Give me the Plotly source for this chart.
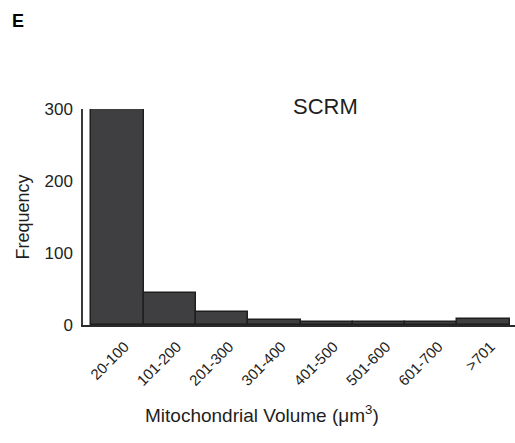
import plotly.graph_objects as go

# Histogram of mitochondrial volumes, SCRM condition
bins = ["20-100", "101-200", "201-300", "301-400", "401-500", "501-600", "601-700", ">701"]
counts = [300, 44, 18, 7, 4, 4, 4, 8]
y_ticks = [0, 100, 200, 300]

font_family = "Liberation Sans, Arial, sans-serif"
text_color = "#1e1e1e"

fig = go.Figure(
    go.Bar(
        x=bins,
        y=counts,
        marker=dict(color="#3f3f41", line=dict(color="#1f1f1f", width=1.5)),
    )
)

fig.update_layout(
    width=515,
    height=443,
    margin=dict(l=83, r=0, t=109, b=118),
    paper_bgcolor="white",
    plot_bgcolor="white",
    bargap=0,
    showlegend=False,
    font=dict(family=font_family, color=text_color),
    xaxis=dict(
        type="category",
        range=[-0.66, 7.6],
        showline=True,
        linecolor="#2a2a2a",
        linewidth=2,
        showgrid=False,
        ticks="",
        tickangle=-45,
        ticklabelshift=7,
        ticklabelstandoff=5,
        tickfont=dict(size=15, color=text_color),
        fixedrange=True,
    ),
    yaxis=dict(
        range=[0, 300],
        tickvals=y_ticks,
        showline=True,
        linecolor="#3a3a3a",
        linewidth=1.5,
        showgrid=False,
        zeroline=False,
        ticks="",
        ticklen=0,
        ticklabelstandoff=5,
        tickfont=dict(size=17, color=text_color),
        title=dict(text="Frequency", font=dict(size=18, color=text_color), standoff=10),
    ),
    annotations=[
        dict(
            text="SCRM", x=325, y=107, xref="paper", yref="paper",
            showarrow=False, font=dict(size=22, color=text_color),
        ),
        dict(
            text="<b>E</b>", x=18, y=21, xref="paper", yref="paper",
            showarrow=False, font=dict(size=18, color="black"),
        ),
        dict(
            text="Mitochondrial Volume (μm<sup>3</sup>)", x=262, y=414,
            xref="paper", yref="paper", showarrow=False,
            font=dict(size=19, color=text_color),
        ),
    ],
)

# place annotations in pixel coordinates of the page
W, H = 515, 443
L, R, T, B = 83, 0, 109, 118
pw, ph = W - L - R, H - T - B
for a in fig.layout.annotations:
    a.x = (a.x - L) / pw
    a.y = 1 - (a.y - T) / ph
    a.xanchor = "center"
    a.yanchor = "middle"

fig.write_html("out.html")
